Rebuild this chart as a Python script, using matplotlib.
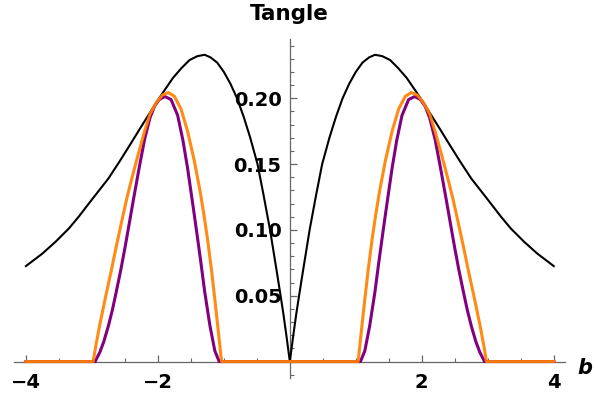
import matplotlib
matplotlib.use("Agg")
import matplotlib.pyplot as plt
from matplotlib.ticker import MultipleLocator, FixedLocator

# values
b_black = [-4.00, -3.75, -3.55, -3.35, -3.20, -3.00, -2.75, -2.58, -2.43, -2.27,
           -2.12, -2.02, -1.90, -1.77, -1.64, -1.52, -1.40, -1.29, -1.20, -1.10,
           -1.00, -0.90, -0.80, -0.70, -0.60, -0.49, -0.40, -0.30, -0.20, -0.14,
           -0.10, -0.05, 0.0,
           0.05, 0.10, 0.14, 0.20, 0.30, 0.40, 0.49, 0.60, 0.70, 0.80,
           0.90, 1.00, 1.10, 1.20, 1.29, 1.40, 1.52, 1.64, 1.77, 1.90, 2.02,
           2.12, 2.27, 2.43, 2.58, 2.75, 3.00, 3.20, 3.35, 3.55, 3.75, 4.00]
v_black = [0.0725, 0.082, 0.091, 0.101, 0.110, 0.123, 0.139, 0.152, 0.164, 0.177,
           0.189, 0.197, 0.206, 0.2155, 0.223, 0.229, 0.232, 0.233, 0.231, 0.227,
           0.220, 0.211, 0.200, 0.186, 0.170, 0.150, 0.127, 0.100, 0.069, 0.050,
           0.037, 0.019, 0.0,
           0.019, 0.037, 0.050, 0.069, 0.100, 0.127, 0.150, 0.170, 0.186, 0.200,
           0.211, 0.220, 0.227, 0.231, 0.233, 0.232, 0.229, 0.223, 0.2155, 0.206,
           0.197, 0.189, 0.177, 0.164, 0.152, 0.139, 0.123, 0.110, 0.101, 0.091,
           0.082, 0.0725]

b_orange = [-4.00, -2.98, -2.94, -2.88, -2.78, -2.71, -2.636, -2.55, -2.47, -2.40,
            -2.30, -2.20, -2.12, -2.02, -1.93, -1.84, -1.75, -1.65, -1.55, -1.45,
            -1.364, -1.30, -1.25, -1.186, -1.136, -1.086, -1.035,
            1.035, 1.086, 1.136, 1.186, 1.25, 1.30, 1.364, 1.45, 1.55, 1.65,
            1.75, 1.84, 1.93, 2.02, 2.12, 2.20, 2.30, 2.40, 2.47, 2.55, 2.636,
            2.71, 2.78, 2.88, 2.94, 2.98, 4.00]
v_orange = [0.0, 0.0, 0.012, 0.028, 0.052, 0.068, 0.086, 0.106, 0.124, 0.138,
            0.157, 0.175, 0.188, 0.197, 0.2025, 0.2043, 0.2015, 0.192, 0.175, 0.153,
            0.1305, 0.111, 0.094, 0.069, 0.047, 0.024, 0.0,
            0.0, 0.024, 0.047, 0.069, 0.094, 0.111, 0.1305, 0.153, 0.175, 0.192,
            0.2015, 0.2043, 0.2025, 0.197, 0.188, 0.175, 0.157, 0.138, 0.124, 0.106,
            0.086, 0.068, 0.052, 0.028, 0.012, 0.0, 0.0]

b_purple = [-4.00, -2.95, -2.88, -2.82, -2.75, -2.69, -2.63, -2.56, -2.50, -2.44,
            -2.37, -2.28, -2.20, -2.12, -2.05, -1.98, -1.894, -1.80, -1.70, -1.62,
            -1.55, -1.475, -1.41, -1.35, -1.29, -1.21, -1.136, -1.07,
            1.07, 1.136, 1.21, 1.29, 1.35, 1.41, 1.475, 1.55, 1.62, 1.70, 1.80,
            1.894, 1.98, 2.05, 2.12, 2.20, 2.28, 2.37, 2.44, 2.50, 2.56, 2.63,
            2.69, 2.75, 2.82, 2.88, 2.95, 4.00]
v_purple = [0.0, 0.0, 0.007, 0.015, 0.027, 0.039, 0.053, 0.070, 0.086, 0.103,
            0.123, 0.148, 0.169, 0.185, 0.194, 0.199, 0.2013, 0.199, 0.187, 0.168,
            0.147, 0.121, 0.098, 0.076, 0.053, 0.027, 0.008, 0.0,
            0.0, 0.008, 0.027, 0.053, 0.076, 0.098, 0.121, 0.147, 0.168, 0.187, 0.199,
            0.2013, 0.199, 0.194, 0.185, 0.169, 0.148, 0.123, 0.103, 0.086, 0.070,
            0.053, 0.039, 0.027, 0.015, 0.007, 0.0, 0.0]

x_ticks = [-4, -2, 2, 4]
x_labels = ["\u22124", "\u22122", "2", "4"]
y_ticks = [0.05, 0.10, 0.15, 0.20]
y_labels = ["0.05", "0.10", "0.15", "0.20"]

ORANGE = "#ff8000"
PURPLE = "#800080"
AXIS = "#666666"

fig = plt.figure(figsize=(5.94, 4.03), dpi=100)
ax = fig.add_axes([14 / 594, 25 / 403, 551 / 594, 339 / 403])

ax.plot(b_black, v_black, color="black", lw=1.5, zorder=3)
ax.plot(b_purple, v_purple, color=PURPLE, lw=2.2, zorder=4,
        solid_joinstyle="round")
ax.plot(b_orange, v_orange, color=ORANGE, lw=2.2, zorder=5, alpha=0.92,
        solid_joinstyle="round")

ax.set_xlim(-4.18, 4.17)
ax.set_ylim(-0.0125, 0.245)

for s in ("top", "right"):
    ax.spines[s].set_visible(False)
ax.spines["left"].set_position(("data", 0))
ax.spines["bottom"].set_position(("data", 0))
for s in ("left", "bottom"):
    ax.spines[s].set_color(AXIS)
    ax.spines[s].set_linewidth(0.9)

ax.xaxis.set_major_locator(FixedLocator(x_ticks))
ax.xaxis.set_minor_locator(MultipleLocator(0.5))
ax.yaxis.set_major_locator(FixedLocator(y_ticks))
ax.yaxis.set_minor_locator(MultipleLocator(0.01))
ax.set_xticklabels(x_labels)
ax.set_yticklabels(y_labels)

ax.tick_params(axis="both", which="major", direction="in", length=5, width=0.9,
               color=AXIS, labelsize=14)
ax.tick_params(axis="both", which="minor", direction="in", length=3, width=0.8,
               color=AXIS)
ax.tick_params(axis="x", which="major", pad=8)
ax.tick_params(axis="y", which="major", pad=6)
for lab in ax.get_xticklabels() + ax.get_yticklabels():
    lab.set_fontweight("bold")
    lab.set_zorder(2)

fig.text(289 / 594, 1 - 14 / 403, "Tangle", ha="center", va="center",
         fontsize=15.5, fontweight="bold")
fig.text(585 / 594, 1 - 368 / 403, "b", ha="center", va="center",
         fontsize=15, fontweight="bold", style="italic")

fig.savefig("out.png", dpi=100)
